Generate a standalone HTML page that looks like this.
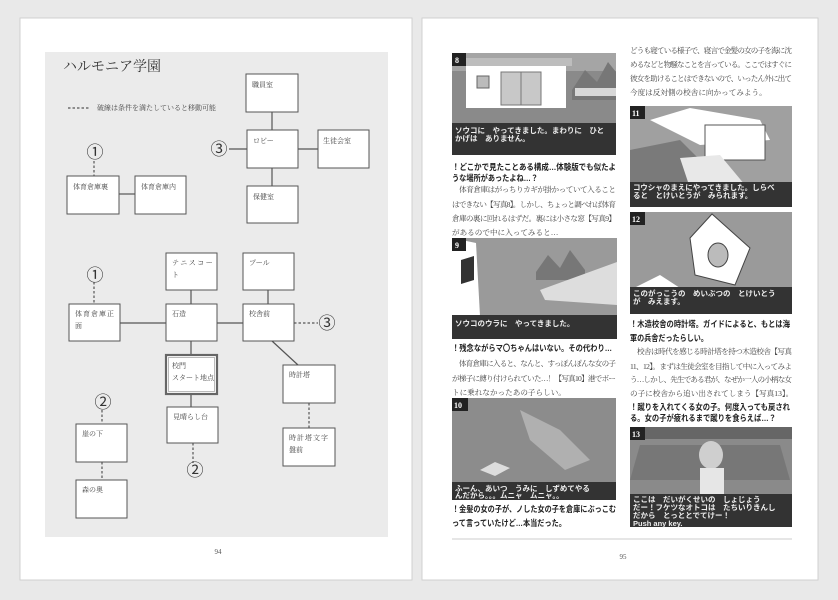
<!DOCTYPE html>
<html><head><meta charset="utf-8">
<style>
html,body{margin:0;padding:0;background:#e9e9e9;}
svg{display:block;}
text{font-family:"Liberation Serif","Noto Serif CJK SC","Noto Sans CJK JP",serif;}
.b{fill:#fff;stroke:#555;stroke-width:1;}
.l{stroke:#555;stroke-width:1.2;fill:none;}
.d{stroke:#555;stroke-width:1.2;fill:none;stroke-dasharray:2.5,2;}
.t{font-size:7px;fill:#444;}
.c{font-size:17px;fill:#333;font-family:"Noto Sans CJK JP","DejaVu Sans",sans-serif;}
.body{font-size:7.6px;fill:#444;}
.cap{font-size:8.6px;fill:#222;font-weight:bold;font-family:"Liberation Sans","Noto Sans CJK JP",sans-serif;}
.msg{font-size:7.5px;fill:#eee;font-family:"Liberation Sans","Noto Sans CJK JP",sans-serif;font-weight:bold;}
.num{font-size:8px;fill:#fff;font-weight:bold;}
</style></head><body>
<svg width="838" height="600" viewBox="0 0 838 600" xmlns="http://www.w3.org/2000/svg">
<rect x="0" y="0" width="838" height="600" fill="#e9e9e9"/>
<rect x="20" y="18" width="392" height="562" fill="#fff" stroke="#d0d0d0"/>
<rect x="422" y="18" width="396" height="562" fill="#fff" stroke="#d0d0d0"/>
<rect x="45" y="52" width="343" height="485" fill="#ebebeb"/>
<text x="63" y="71" font-size="14" fill="#333" font-family="Liberation Sans,Noto Sans CJK JP,sans-serif">ハルモニア学園</text>
<line x1="68" y1="108" x2="90" y2="108" class="d" stroke-width="1"/>
<text x="97" y="110" class="t" font-size="6.5">破線は条件を満たしていると移動可能</text>
<line x1="272" y1="112" x2="272" y2="130" class="l"/>
<line x1="272" y1="168" x2="272" y2="186" class="l"/>
<line x1="298" y1="149" x2="318" y2="149" class="l"/>
<line x1="229" y1="149" x2="247" y2="149" class="l"/>
<rect x="246" y="74" width="52" height="38" class="b"/><text x="252" y="87" class="t">職員室</text>
<rect x="247" y="130" width="51" height="38" class="b"/><text x="253" y="143" class="t">ロビー</text>
<rect x="318" y="130" width="51" height="38" class="b"/><text x="323" y="143" class="t">生徒会室</text>
<rect x="247" y="186" width="51" height="37" class="b"/><text x="253" y="199" class="t">保健室</text>
<text x="219" y="155" class="c" text-anchor="middle">③</text>
<text x="95" y="158" class="c" text-anchor="middle">①</text>
<line x1="94" y1="161" x2="94" y2="176" class="d"/>
<line x1="119" y1="194" x2="135" y2="194" class="l"/>
<rect x="67" y="176" width="52" height="38" class="b"/><text x="73" y="189" class="t">体育倉庫裏</text>
<rect x="135" y="176" width="51" height="38" class="b"/><text x="141" y="189" class="t">体育倉庫内</text>
<line x1="191" y1="290" x2="191" y2="304" class="l"/>
<line x1="268" y1="290" x2="268" y2="304" class="l"/>
<line x1="120" y1="323" x2="166" y2="323" class="l"/>
<line x1="217" y1="323" x2="243" y2="323" class="l"/>
<line x1="191" y1="341" x2="191" y2="355" class="l"/>
<line x1="191" y1="394" x2="191" y2="407" class="l"/>
<line x1="272" y1="341" x2="298" y2="365" class="l"/>
<line x1="294" y1="323" x2="318" y2="323" class="d"/>
<line x1="309" y1="403" x2="309" y2="428" class="d"/>
<line x1="94" y1="282" x2="94" y2="304" class="d"/>
<line x1="193" y1="443" x2="193" y2="463" class="d"/>
<line x1="102" y1="410" x2="102" y2="424" class="d"/>
<line x1="102" y1="462" x2="102" y2="480" class="d"/>
<text x="95" y="281" class="c" text-anchor="middle">①</text>
<text x="327" y="329" class="c" text-anchor="middle">③</text>
<text x="195" y="476" class="c" text-anchor="middle">②</text>
<text x="103" y="408" class="c" text-anchor="middle">②</text>
<rect x="166" y="253" width="51" height="37" class="b"/><text x="172" y="265" class="t" letter-spacing="1.5">テニスコー</text><text x="172" y="277" class="t">ト</text>
<rect x="243" y="253" width="51" height="37" class="b"/><text x="249" y="265" class="t">プール</text>
<rect x="69" y="304" width="51" height="37" class="b"/><text x="75" y="316" class="t" letter-spacing="1">体育倉庫正</text><text x="75" y="328" class="t">面</text>
<rect x="166" y="304" width="51" height="37" class="b"/><text x="172" y="316" class="t">石造</text>
<rect x="243" y="304" width="51" height="37" class="b"/><text x="249" y="316" class="t">校舎前</text>
<rect x="166" y="355" width="51" height="39" fill="#fff" stroke="#666" stroke-width="2.2"/>
<rect x="168.5" y="357.5" width="46" height="34" fill="none" stroke="#aaa" stroke-width="0.8"/>
<text x="172" y="368" class="t">校門</text><text x="172" y="380" class="t" font-size="6.5">スタート地点</text>
<rect x="167" y="407" width="51" height="36" class="b"/><text x="173" y="419" class="t">見晴らし台</text>
<rect x="283" y="365" width="52" height="38" class="b"/><text x="289" y="377" class="t">時計塔</text>
<rect x="283" y="428" width="52" height="38" class="b"/><text x="289" y="440" class="t" letter-spacing="1">時計塔文字</text><text x="289" y="452" class="t">盤前</text>
<rect x="76" y="424" width="51" height="38" class="b"/><text x="82" y="436" class="t">崖の下</text>
<rect x="76" y="480" width="51" height="38" class="b"/><text x="82" y="492" class="t">森の奥</text>
<text x="218" y="554" font-size="7" fill="#555" text-anchor="middle">94</text>

<!-- Screenshot 8 -->
<g>
<rect x="452" y="53" width="164" height="102" fill="#8a8a8a"/>
<rect x="452" y="53" width="164" height="18" fill="#a5a5a5"/>
<polygon points="572,90 585,70 597,82 608,62 616,72 616,100 572,100" fill="#777"/>
<rect x="575" y="88" width="41" height="8" fill="#d8d8d8"/>
<rect x="462" y="58" width="110" height="8" fill="#bdbdbd"/>
<rect x="466" y="66" width="100" height="42" fill="#fff"/>
<rect x="477" y="76" width="12" height="12" fill="#bbb" stroke="#666"/>
<rect x="501" y="72" width="20" height="33" fill="#c8c8c8" stroke="#777"/>
<rect x="521" y="72" width="20" height="33" fill="#c8c8c8" stroke="#777"/>
<rect x="452" y="123" width="164" height="32" fill="#333"/>
<text x="455" y="133" class="msg">ソウコに　やってきました。まわりに　ひと</text>
<text x="455" y="141" class="msg">かげは　ありません。</text>
<rect x="452" y="53" width="14" height="13" fill="#222"/><text x="455" y="63" class="num">8</text>
</g>
<text x="452" y="170" class="cap" textLength="164" lengthAdjust="spacingAndGlyphs">！どこかで見たことある構成…体験版でも似たよ</text>
<text x="452" y="181" class="cap" textLength="86" lengthAdjust="spacingAndGlyphs">うな場所があったよね…？</text>
<text x="452" y="192" class="body" textLength="164">　体育倉庫はがっちりカギが掛かっていて入ること</text>
<text x="452" y="207" class="body" textLength="164">はできない【写真8】。しかし、ちょっと調べれば体育</text>
<text x="452" y="221" class="body" textLength="164">倉庫の裏に回れるはずだ。裏には小さな窓【写真9】</text>
<text x="452" y="235" class="body">があるので中に入ってみると…</text>
<!-- Screenshot 9 -->
<g>
<rect x="452" y="238" width="165" height="101" fill="#9a9a9a"/>
<polygon points="452,238 476,243 480,316 452,320" fill="#fff"/>
<polygon points="461,260 474,256 474,280 461,284" fill="#333"/>
<polygon points="536,272 548,255 560,268 570,250 585,270 585,280 536,280" fill="#777"/>
<polygon points="540,290 617,262 617,305 545,300" fill="#ddd"/>
<rect x="452" y="315" width="165" height="24" fill="#333"/>
<text x="455" y="326" class="msg">ソウコのウラに　やってきました。</text>
<rect x="452" y="238" width="14" height="13" fill="#222"/><text x="455" y="248" class="num">9</text>
</g>
<text x="452" y="351" class="cap" textLength="160" lengthAdjust="spacingAndGlyphs">！残念ながらマ〇ちゃんはいない。その代わり…</text>
<text x="452" y="366" class="body" textLength="164">　体育倉庫に入ると、なんと、すっぽんぽんな女の子</text>
<text x="452" y="381" class="body" textLength="164">が梯子に縛り付けられていた…！【写真10】港でボー</text>
<text x="452" y="395" class="body">トに乗れなかったあの子らしい。</text>
<!-- Screenshot 10 -->
<g>
<rect x="452" y="398" width="164" height="102" fill="#8c8c8c"/>
<polygon points="520,410 560,430 590,460 565,470 530,440" fill="#b0b0b0"/>
<polygon points="480,470 495,462 510,468 495,476" fill="#ddd"/>
<rect x="452" y="482" width="164" height="18" fill="#333"/>
<text x="455" y="491" class="msg">ふーん、あいつ　うみに　しずめてやる</text>
<text x="455" y="498" class="msg">んだから。。。ムニャ　ムニャ。。</text>
<rect x="452" y="398" width="16" height="13" fill="#222"/><text x="454" y="408" class="num">10</text>
</g>
<text x="452" y="512" class="cap" textLength="164" lengthAdjust="spacingAndGlyphs">！金髪の女の子が、ノした女の子を倉庫にぶっこむ</text>
<text x="452" y="526" class="cap" textLength="114" lengthAdjust="spacingAndGlyphs">って言っていたけど…本当だった。</text>

<text x="630" y="53" class="body" textLength="162">どうも寝ている様子で、寝言で金髪の女の子を海に沈</text>
<text x="630" y="67" class="body" textLength="162">めるなどと物騒なことを言っている。ここではすぐに</text>
<text x="630" y="81" class="body" textLength="162">彼女を助けることはできないので、いったん外に出て</text>
<text x="630" y="95" class="body">今度は反対側の校舎に向かってみよう。</text>
<!-- 11 -->
<g>
<rect x="630" y="106" width="162" height="101" fill="#a0a0a0"/>
<polygon points="650,120 690,108 760,120 770,140 700,145" fill="#fff"/>
<rect x="705" y="125" width="60" height="35" fill="#fff" stroke="#555"/>
<polygon points="630,150 680,140 720,180 630,185" fill="#7a7a7a"/>
<polygon points="680,158 720,155 745,185 690,188" fill="#e8e8e8"/>
<rect x="630" y="182" width="162" height="25" fill="#333"/>
<text x="633" y="190" class="msg">コウシャのまえにやってきました。しらべ</text>
<text x="633" y="198" class="msg">ると　とけいとうが　みられます。</text>
<rect x="630" y="106" width="15" height="13" fill="#222"/><text x="632" y="116" class="num">11</text>
</g>
<!-- 12 -->
<g>
<rect x="630" y="212" width="162" height="102" fill="#9a9a9a"/>
<polygon points="690,238 712,214 750,248 735,285 695,275" fill="#fff" stroke="#444"/>
<ellipse cx="718" cy="255" rx="10" ry="12" fill="#bbb" stroke="#444"/>
<polygon points="630,290 660,275 680,288" fill="#fff"/>
<rect x="630" y="287" width="162" height="27" fill="#333"/>
<text x="633" y="296" class="msg">このがっこうの　めいぶつの　とけいとう</text>
<text x="633" y="304" class="msg">が　みえます。</text>
<rect x="630" y="212" width="15" height="13" fill="#222"/><text x="632" y="222" class="num">12</text>
</g>
<text x="630" y="327" class="cap" textLength="160" lengthAdjust="spacingAndGlyphs">！木造校舎の時計塔。ガイドによると、もとは海</text>
<text x="630" y="341" class="cap" textLength="78" lengthAdjust="spacingAndGlyphs">軍の兵舎だったらしい。</text>
<text x="630" y="354" class="body" textLength="162">　校舎は時代を感じる時計塔を持つ木造校舎【写真</text>
<text x="630" y="369" class="body" textLength="162">11、12】。まずは生徒会室を目指して中に入ってみよ</text>
<text x="630" y="382" class="body" textLength="162">う…しかし、先生である君が、なぜか一人の小柄な女</text>
<text x="630" y="396" class="body">の子に校舎から追い出されてしまう【写真13】。</text>
<text x="630" y="410" class="cap" textLength="160" lengthAdjust="spacingAndGlyphs">！蹴りを入れてくる女の子。何度入っても戻され</text>
<text x="630" y="421" class="cap" textLength="146" lengthAdjust="spacingAndGlyphs">る。女の子が疲れるまで蹴りを食らえば…？</text>
<!-- 13 -->
<g>
<rect x="630" y="427" width="162" height="100" fill="#8a8a8a"/>
<rect x="630" y="427" width="162" height="12" fill="#666"/>
<polygon points="640,445 780,445 790,480 630,480" fill="#777"/>
<ellipse cx="711" cy="455" rx="12" ry="14" fill="#cfcfcf"/>
<rect x="700" y="468" width="24" height="28" fill="#e6e6e6"/>
<rect x="630" y="494" width="162" height="33" fill="#333"/>
<text x="633" y="502" class="msg">ここは　だいがくせいの　しょじょう</text>
<text x="633" y="510" class="msg">だー！フケツなオトコは　たちいりきんし</text>
<text x="633" y="518" class="msg">だから　とっととでてけー！</text>
<text x="633" y="526" class="msg">Push any key.</text>
<rect x="630" y="427" width="15" height="13" fill="#222"/><text x="632" y="437" class="num">13</text>
</g>
<line x1="452" y1="539" x2="792" y2="539" stroke="#ccc" stroke-width="1"/>
<text x="623" y="559" font-size="7" fill="#555" text-anchor="middle">95</text>
</svg>
</body></html>
